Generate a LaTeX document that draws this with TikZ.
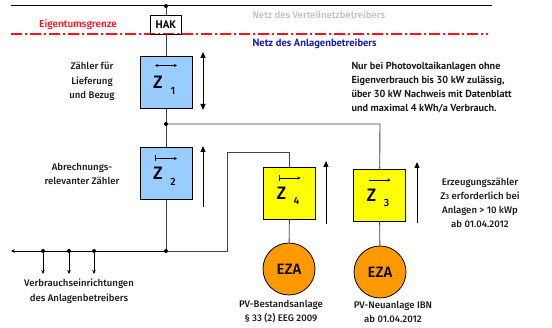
\documentclass[tikz,border=0pt]{standalone}
\usepackage{fontspec}
\IfFontExistsTF{FiraSans-Medium.otf}{\setmainfont{FiraSans-Medium.otf}}{\IfFontExistsTF{Fira Sans Medium}{\setmainfont{Fira Sans Medium}}{\setmainfont{Fira Sans}}}
\newfontfamily\boldish{PT Sans Bold}
\usetikzlibrary{arrows.meta,calc}
\definecolor{lblue}{HTML}{99CCFF}
\definecolor{myyellow}{HTML}{FFFF00}
\definecolor{myorange}{HTML}{FF9900}
\definecolor{myred}{HTML}{FF1020}
\definecolor{myblue}{HTML}{1A1AA8}
\definecolor{mygray}{HTML}{C0C0C0}
\definecolor{wire}{HTML}{444444}
\definecolor{txt}{HTML}{1A1A1A}
\tikzset{
  meter/.style={draw=black, line width=0.8pt, minimum width=52pt, minimum height=52pt, inner sep=0pt},
  ezabox/.style={circle, draw=black, line width=0.8pt, fill=myorange, minimum size=52pt, inner sep=0pt, font=\fontsize{15}{15}\selectfont},
  wireline/.style={draw=wire, line width=0.9pt},
  lbl/.style={align=center, text=txt, font=\fontsize{9.6}{14.5}\selectfont},
  dot/.style={circle, fill=black, inner sep=0pt, minimum size=4pt},
  flow/.style={draw=black, line width=1pt, -{Triangle[length=6pt,width=5pt]}},
  zbig/.style={font=\fontsize{18}{18}\selectfont, inner sep=0pt},
  zsub/.style={font=\fontsize{10.5}{10.5}\selectfont, inner sep=0pt},
}
\begin{document}
\begin{tikzpicture}[x=1pt,y=-1pt]
\useasboundingbox (0,0) rectangle (552,328);
% top line
\coordinate (tl) at (11,6);
\coordinate (tr) at (492,6);
\draw[black, line width=1pt] (tl) -- (tr);
\node[dot] (d0) at (166,6) {};
\node[draw=black, line width=0.9pt, fill=white, minimum width=31pt, minimum height=19pt, inner sep=0pt, font=\boldish\fontsize{11}{11}\selectfont] (hak) at (166,24.5) {HAK};
% red boundary
\coordinate (rl) at (11,34);
\coordinate (rr) at (488,34);
\draw[color=myred, line width=1.4pt, dash pattern=on 11pt off 3pt on 2pt off 3pt] (rl) -- (rr);
\draw[black, line width=0.9pt] (hak.south west) -- (hak.south east);
\node[text=mygray, anchor=west, font=\fontsize{9.6}{9.6}\selectfont] (nv) at (249,15) {Netz des Verteilnetzbetreibers};
\node[text=myred, font=\fontsize{10}{10}\selectfont] (eg) at (78,25) {Eigentumsgrenze};
\node[text=myblue, anchor=west, font=\boldish\fontsize{10.5}{10.5}\selectfont] (na) at (249,43.5) {Netz des Anlagenbetreibers};
% meters
\node[meter, fill=lblue] (z1) at (166,82.5) {};
\node[meter, fill=lblue] (z2) at (166,173.5) {};
\node[meter, fill=myyellow] (z4) at (289.5,193) {};
\node[meter, fill=myyellow] (z3) at (379.5,195) {};
% meter symbols
\node[zbig] (z1Z) at ($(z1.center)+(-8,0)$) {Z};
\node[zsub] (z1s) at ($(z1.center)+(7,8)$) {1};
\coordinate (z1a) at ($(z1.center)+(-11,-17)$);
\coordinate (z1b) at ($(z1.center)+(11,-17)$);
\draw[black, line width=0.7pt, {Stealth[length=3pt,width=3pt]}-{Stealth[length=3pt,width=3pt]}] (z1a) -- (z1b);
\node[zbig] (z2Z) at ($(z2.center)+(-8,0)$) {Z};
\node[zsub] (z2s) at ($(z2.center)+(7,8)$) {2};
\coordinate (z2a) at ($(z2.center)+(-11,-15)$);
\coordinate (z2b) at ($(z2.center)+(11,-15)$);
\draw[black, line width=0.7pt, {Bar[width=6pt]}-{Stealth[length=3pt,width=3pt]}] (z2a) -- (z2b);
\node[zbig] (z4Z) at ($(z4.center)+(-8,0)$) {Z};
\node[zsub] (z4s) at ($(z4.center)+(7,8)$) {4};
\coordinate (z4a) at ($(z4.center)+(-11,-15)$);
\coordinate (z4b) at ($(z4.center)+(11,-15)$);
\draw[black, line width=0.7pt, {Bar[width=6pt]}-{Stealth[length=3pt,width=3pt]}] (z4a) -- (z4b);
\node[zbig] (z3Z) at ($(z3.center)+(-8,0)$) {Z};
\node[zsub] (z3s) at ($(z3.center)+(7,8)$) {3};
\coordinate (z3a) at ($(z3.center)+(-11,-15)$);
\coordinate (z3b) at ($(z3.center)+(11,-15)$);
\draw[black, line width=0.7pt, -{Stealth[length=3pt,width=3pt]}] (z3a) -- (z3b);
% EZA
\node[ezabox] (e1) at (289,269) {EZA};
\node[ezabox] (e2) at (380,272) {EZA};
% wiring
\node[dot] (j1) at (166,124) {};
\node[dot] (j2) at (166,251) {};
\coordinate (c3) at (380,124);
\coordinate (c4a) at (289.5,152);
\coordinate (c4b) at (227,152);
\coordinate (c4c) at (227,251);
\coordinate (busl) at (11,251);
\draw[wireline] (d0) -- (hak);
\draw[wireline] (hak) -- (z1);
\draw[wireline] (z1) -- (j1);
\draw[wireline] (j1) -- (z2);
\draw[wireline] (z2) -- (j2);
\draw[wireline] (j1) -- (c3) -- (z3);
\draw[wireline] (z4) -- (c4a) -- (c4b) -- (c4c) -- (j2);
\draw[wireline] (z4) -- (e1);
\draw[wireline] (z3) -- (e2);
\draw[black, line width=0.9pt, -{Stealth[length=4pt,width=3.5pt]}] (j2) -- (busl);
\foreach \x/\n in {43/a,69/b,94/c}{
  \node[dot] (v\n) at (\x,251) {};
  \coordinate (w\n) at (\x,274);
  \draw[black, line width=0.9pt, -{Stealth[length=4pt,width=3.5pt]}] (v\n) -- (w\n);
}
% flow arrows
\coordinate (f1a) at (203,52);
\coordinate (f1b) at (203,110);
\draw[black, line width=1pt, {Triangle[length=6pt,width=5pt]}-{Triangle[length=6pt,width=5pt]}] (f1a) -- (f1b);
\coordinate (f2a) at (203,207);
\coordinate (f2b) at (203,146);
\draw[flow] (f2a) -- (f2b);
\coordinate (f4a) at (326,224);
\coordinate (f4b) at (326,161);
\draw[flow] (f4a) -- (f4b);
\coordinate (f3a) at (417,223);
\coordinate (f3b) at (417,162);
\draw[flow] (f3a) -- (f3b);
% texts
\node[lbl] (t1) at (92,81.5) {Zähler für\\Lieferung\\und Bezug};
\node[lbl] (t2) at (82,174) {Abrechnungs-\\relevanter Zähler};
\node[lbl, align=left, anchor=north west, font=\boldish\fontsize{10.2}{14}\selectfont] (t3) at (348,59) {Nur bei Photovoltaikanlagen ohne\\Eigenverbrauch bis 30 kW zulässig,\\über 30 kW Nachweis mit Datenblatt\\und maximal 4 kWh/a Verbrauch.};
\node[lbl, font=\fontsize{9.6}{14}\selectfont] (t4) at (480,203) {Erzeugungszähler\\Z{\fontsize{7.5}{7.5}\selectfont 3} erforderlich bei\\Anlagen > 10 kWp\\ab 01.04.2012};
\node[lbl, font=\fontsize{9.6}{15}\selectfont] (t5) at (79,291) {Verbrauchseinrichtungen\\des Anlagenbetreibers};
\node[lbl, font=\fontsize{9.6}{14}\selectfont] (t6) at (281,312) {PV-Bestandsanlage\\§ 33 (2) EEG 2009};
\node[lbl, font=\fontsize{9.6}{14}\selectfont] (t7) at (393,312) {PV-Neuanlage IBN\\ab 01.04.2012};
\end{tikzpicture}
\end{document}
